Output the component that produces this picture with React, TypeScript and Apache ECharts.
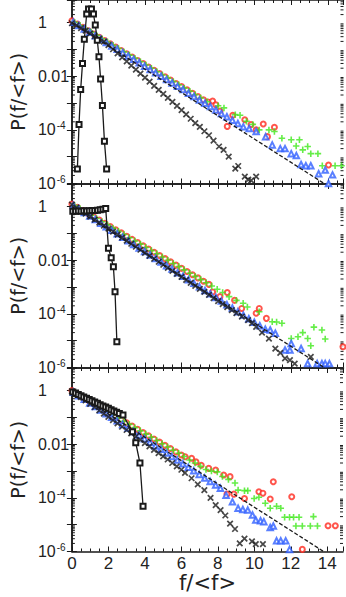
import React, { useEffect, useRef } from "react";
import * as echarts from "echarts";

type Pt = [number, number];

const X_MIN = 0;
const X_MAX = 14.86;
const X_INTERVAL = 2;
const Y_MIN = 1e-6;
const Y_MAX = 7;
const Y_LABEL_EXPONENTS = [0, -2, -4, -6];
const X_NAME = "f/<f>";
const Y_NAME = "P(f/<f>)";

// ---------- Panel 1 ----------
const p1Red: Pt[] = [[0,1.17],[0.3,0.885],[0.6,0.667],[0.9,0.5],[1.2,0.378],[1.5,0.285],[1.8,0.215],[2.1,0.162],[2.4,0.122],[2.7,0.092],[3.0,0.069],[3.3,0.052],[3.6,0.039],[3.9,0.03],[4.2,0.022],[4.5,0.0168],[4.8,0.0126],[5.1,0.0095],[5.4,0.0072],[5.7,0.0054],[6.0,0.0041],[6.3,0.0031],[6.6,0.0023],[6.9,0.00174],[7.2,0.00132],[7.45,1.1e-3],[7.7,1.2e-3],[7.88,8.7e-4],[8.1,5e-4],[8.5,1.35e-4],[8.8,3.5e-4],[9.46,2.4e-4],[9.8,1.6e-4],[10.08,1.0e-4],[10.47,1.66e-4],[10.7,5.6e-5],[11.08,1.26e-4],[14.04,4.9e-6]];
const p1Green: Pt[] = [[0.15,1.04],[0.45,0.78],[0.75,0.59],[1.05,0.445],[1.35,0.337],[1.65,0.25],[1.95,0.19],[2.25,0.144],[2.55,0.108],[2.85,0.081],[3.15,0.0617],[3.45,0.0465],[3.75,0.0347],[4.05,0.0263],[4.35,0.02],[4.65,0.0148],[4.95,0.0112],[5.25,0.0085],[5.55,0.0063],[5.85,0.0048],[6.15,0.0036],[6.45,0.00275],[6.75,0.00204],[7.05,0.00155],[7.4,0.00112],[8.0,7.9e-4],[8.32,6.6e-4],[8.94,3.7e-4],[9.2,3.5e-4],[9.55,2.1e-4],[9.9,1.6e-4],[10.25,1.0e-4],[10.78,1.0e-4],[11.08,8.7e-5],[11.49,4.9e-5],[12.0,4.3e-5],[12.27,2.5e-5],[12.45,4.3e-5],[12.63,1.8e-5],[12.9,2.4e-5],[13.07,1.3e-5],[13.46,1.3e-5],[13.7,4.6e-6],[14.4,4.6e-6],[14.75,4.6e-6]];
const p1Blue: Pt[] = [[0.08,1.04],[0.38,0.776],[0.68,0.58],[0.98,0.435],[1.28,0.325],[1.58,0.243],[1.88,0.182],[2.18,0.136],[2.48,0.102],[2.78,0.0762],[3.08,0.057],[3.38,0.0427],[3.68,0.0319],[3.98,0.0239],[4.28,0.0179],[4.58,0.0134],[4.88,0.01],[5.18,0.0075],[5.48,0.0056],[5.78,0.0042],[6.08,0.0032],[6.38,0.00234],[6.68,0.00175],[6.98,0.00131],[7.28,9.8e-4],[7.58,7.4e-4],[7.88,5.5e-4],[8.18,4.1e-4],[8.48,3.1e-4],[8.78,2.3e-4],[9.08,1.74e-4],[9.38,1.3e-4],[9.7,1.12e-4],[10.08,8.7e-5],[10.6,5.6e-5],[10.96,2.75e-5],[11.4,2.0e-5],[11.66,2.0e-5],[12.0,1.3e-5],[12.28,1.1e-5],[12.54,5.1e-6],[12.8,4.6e-6],[13.07,4.6e-6],[13.5,2.3e-6],[13.86,3.2e-6],[14.26,2.1e-6],[14.04,1.0e-6]];
const p1Cross: Pt[] = [[0,0.95],[0.25,0.79],[0.5,0.63],[0.75,0.5],[1.0,0.4],[1.25,0.316],[1.5,0.25],[1.75,0.195],[2.0,0.145],[2.25,0.102],[2.5,0.072],[2.75,0.051],[3.0,0.036],[3.25,0.025],[3.5,0.0178],[3.75,0.0126],[4.0,0.0089],[4.25,0.0063],[4.5,0.0044],[4.75,0.0031],[5.0,0.0022],[5.25,0.00155],[5.5,0.0011],[5.75,7.8e-4],[6.0,5.5e-4],[6.25,3.8e-4],[6.5,2.6e-4],[6.75,1.8e-4],[7.0,1.3e-4],[7.25,8.9e-5],[7.5,6.3e-5],[7.75,4.0e-5],[8.05,2.4e-5],[8.3,1.8e-5],[8.58,1.0e-5],[8.94,3.6e-6],[9.1,4.5e-6],[9.46,1.8e-6],[9.65,1.4e-6],[9.81,1.3e-6],[10.08,1.8e-6]];
const p1Square: Pt[] = [[0.3,3.5e-6],[0.39,1.6e-4],[0.48,3.2e-3],[0.58,0.03],[0.68,0.24],[0.81,2.1],[0.91,3.2],[1.07,3.2],[1.18,2.1],[1.28,0.81],[1.39,0.22],[1.48,0.054],[1.57,7.9e-3],[1.67,8.2e-4],[1.78,3.8e-5],[1.9,3.5e-6]];

// ---------- Panel 2 ----------
const p2Red: Pt[] = [[0,1.26],[0.3,0.955],[0.6,0.724],[0.9,0.55],[1.2,0.417],[1.5,0.316],[1.8,0.24],[2.1,0.182],[2.4,0.138],[2.7,0.105],[3.0,0.079],[3.3,0.06],[3.6,0.0457],[3.9,0.0347],[4.2,0.0263],[4.5,0.02],[4.8,0.0151],[5.1,0.0115],[5.4,0.0087],[5.7,0.0066],[6.0,0.005],[6.3,0.0038],[6.6,0.0029],[6.9,0.0022],[7.2,0.00166],[7.5,0.00126],[7.7,6.6e-4],[8.1,4.4e-4],[8.5,6.3e-4],[8.9,3.2e-4],[9.29,1.6e-4],[10.08,1.05e-4],[10.25,1.6e-4],[10.64,6.8e-5],[14.83,5.9e-6]];
const p2Green: Pt[] = [[0.15,1.1],[0.45,0.83],[0.75,0.63],[1.05,0.48],[1.35,0.363],[1.65,0.275],[1.95,0.209],[2.25,0.158],[2.55,0.12],[2.85,0.091],[3.15,0.069],[3.45,0.0525],[3.75,0.04],[4.05,0.03],[4.35,0.0229],[4.65,0.0174],[4.95,0.0132],[5.25,0.01],[5.55,0.0076],[5.85,0.0058],[6.15,0.0044],[6.45,0.0033],[6.75,0.0025],[7.05,0.0019],[7.35,0.00145],[7.65,0.0011],[7.95,8.3e-4],[8.25,6.3e-4],[8.6,4.4e-4],[9.0,3.2e-4],[9.37,2.5e-4],[9.6,1.8e-4],[10.25,1.2e-4],[10.96,5.1e-5],[11.2,5.0e-5],[11.49,4.5e-5],[12.0,1.2e-5],[12.37,1.4e-5],[12.63,2.0e-5],[12.9,1.2e-5],[13.07,6.5e-6],[13.24,3.2e-5],[13.68,2.5e-5],[13.86,1.15e-5]];
const p2Blue: Pt[] = [[0.08,1.11],[0.38,0.82],[0.68,0.6],[0.98,0.445],[1.28,0.33],[1.58,0.243],[1.88,0.179],[2.18,0.132],[2.48,0.098],[2.78,0.072],[3.08,0.053],[3.38,0.039],[3.68,0.0289],[3.98,0.0213],[4.28,0.0157],[4.58,0.0116],[4.88,0.0086],[5.18,0.0063],[5.48,0.0047],[5.78,0.00344],[6.08,0.00254],[6.38,0.00187],[6.68,0.00138],[6.98,0.00102],[7.28,7.5e-4],[7.58,5.6e-4],[7.88,4.1e-4],[8.18,3.0e-4],[8.48,2.2e-4],[8.78,1.65e-4],[9.08,1.2e-4],[9.38,9.0e-5],[9.68,6.6e-5],[9.98,4.9e-5],[10.28,3.6e-5],[10.58,2.7e-5],[10.85,2.5e-5],[11.13,1.9e-5],[11.66,4.5e-6],[11.93,4.5e-6],[12.0,7.9e-6],[12.54,5.1e-6],[12.9,1.4e-6],[13.42,1.4e-6],[13.68,1.4e-6],[13.86,1.4e-6],[14.09,1.4e-6]];
const p2Cross: Pt[] = [[0,1.2],[0.25,0.93],[0.5,0.716],[0.75,0.552],[1.0,0.427],[1.25,0.329],[1.5,0.254],[1.75,0.196],[2.0,0.151],[2.25,0.117],[2.5,0.09],[2.75,0.0695],[3.0,0.0537],[3.25,0.0414],[3.5,0.032],[3.75,0.0247],[4.0,0.019],[4.25,0.0147],[4.5,0.0114],[4.75,0.0088],[5.0,0.0068],[5.25,0.0052],[5.5,0.004],[5.75,0.0031],[6.0,0.0024],[6.25,0.00185],[6.5,0.00143],[6.75,0.0011],[7.0,8.5e-4],[7.25,6.6e-4],[7.5,5.1e-4],[7.75,3.9e-4],[8.0,3.0e-4],[8.25,2.3e-4],[8.5,1.8e-4],[8.75,1.39e-4],[9.0,1.07e-4],[9.3,7.9e-5],[9.64,5.9e-5],[9.85,4.5e-5],[10.08,3.3e-5],[10.4,2.0e-5],[10.78,1.2e-5],[11.13,5.1e-6],[11.4,3.5e-6],[11.66,2.2e-6],[11.93,1.9e-6],[12.19,1.4e-6],[13.07,2.5e-6]];
const p2Square: Pt[] = [[0.05,0.68],[0.2,0.68],[0.35,0.69],[0.5,0.68],[0.65,0.7],[0.8,0.69],[0.95,0.7],[1.1,0.72],[1.25,0.72],[1.4,0.74],[1.55,0.76],[1.7,0.8],[1.85,0.86],[2.0,0.028],[2.15,0.0124],[2.27,0.0057],[2.36,6.7e-4],[2.46,9.1e-6]];

// ---------- Panel 3 ----------
const p3Red: Pt[] = [[0,1.0],[0.3,0.76],[0.6,0.575],[0.9,0.437],[1.2,0.331],[1.5,0.251],[1.8,0.19],[2.1,0.145],[2.4,0.11],[2.7,0.083],[3.0,0.063],[3.3,0.048],[3.6,0.036],[3.9,0.0275],[4.2,0.0209],[4.5,0.0158],[4.8,0.012],[5.1,0.0091],[5.4,0.0069],[5.7,0.0052],[6.0,0.004],[6.21,0.0034],[6.56,0.003],[6.8,0.0022],[7.09,0.00166],[7.5,0.00126],[7.88,0.0011],[8.32,7.1e-4],[8.67,6.2e-4],[8.5,1.38e-4],[8.88,1.38e-4],[9.46,9.5e-5],[10.25,1.7e-4],[10.47,1.5e-4],[10.87,9.1e-5],[11.04,4.0e-4],[12.05,1.1e-4],[12.63,1.2e-6],[14.04,9.1e-6],[14.44,9.1e-6]];
const p3Green: Pt[] = [[0.15,0.87],[0.45,0.66],[0.75,0.5],[1.05,0.38],[1.35,0.288],[1.65,0.219],[1.95,0.166],[2.25,0.126],[2.55,0.095],[2.85,0.072],[3.15,0.055],[3.45,0.0417],[3.75,0.0316],[4.05,0.024],[4.35,0.0182],[4.65,0.0138],[4.95,0.0105],[5.25,0.0079],[5.55,0.006],[5.85,0.0046],[6.15,0.0035],[6.45,0.0026],[6.75,0.002],[7.05,0.0015],[7.35,0.00115],[7.65,0.001],[7.97,9.3e-4],[8.25,6.3e-4],[8.58,4.9e-4],[8.94,3.6e-4],[9.11,1.95e-4],[9.46,1.86e-4],[9.64,1.86e-4],[9.99,9.5e-5],[10.25,1.05e-4],[10.6,6.3e-5],[10.87,4.1e-5],[11.22,4.9e-5],[11.45,4.1e-5],[11.66,1.9e-5],[11.93,1.9e-5],[12.15,1.9e-5],[12.45,1.9e-5],[13.24,2.0e-5],[12.28,8.9e-6],[12.63,8.9e-6],[13.07,8.9e-6],[13.46,8.9e-6],[14.92,8.3e-6]];
const p3Blue: Pt[] = [[0.08,0.88],[0.38,0.646],[0.68,0.475],[0.98,0.35],[1.28,0.257],[1.58,0.189],[1.88,0.139],[2.18,0.102],[2.48,0.075],[2.78,0.055],[3.08,0.0407],[3.38,0.03],[3.68,0.022],[3.98,0.0162],[4.28,0.0119],[4.58,0.0087],[4.88,0.0065],[5.18,0.0047],[5.48,0.00347],[5.78,0.00257],[6.08,0.00188],[6.38,0.00138],[6.68,0.00102],[6.98,7.5e-4],[7.28,5.5e-4],[7.58,4.1e-4],[7.88,3.0e-4],[8.14,2.3e-4],[8.45,1.26e-4],[8.8,7.1e-5],[9.11,4.1e-5],[9.37,3.7e-5],[9.64,3.5e-5],[9.9,2.3e-5],[10.08,1.5e-5],[10.34,1.4e-5],[10.52,1.3e-5],[10.87,7.9e-6],[11.04,8.9e-6],[11.22,2.5e-6],[11.45,2.5e-6],[11.72,2.5e-6],[11.93,1.2e-6]];
const p3Cross: Pt[] = [[0,0.95],[0.25,0.76],[0.5,0.57],[0.75,0.43],[1.0,0.324],[1.25,0.245],[1.5,0.184],[1.75,0.138],[2.0,0.105],[2.25,0.079],[2.5,0.06],[2.75,0.045],[3.0,0.034],[3.25,0.0257],[3.5,0.0193],[3.75,0.0145],[4.0,0.011],[4.25,0.0083],[4.5,0.0062],[4.75,0.0047],[5.0,0.00355],[5.25,0.0027],[5.5,0.002],[5.75,0.0015],[6.0,0.00112],[6.2,8.5e-4],[6.56,5.4e-4],[6.9,3.2e-4],[7.26,1.95e-4],[7.6,1.0e-4],[7.88,5.4e-5],[8.15,3.5e-5],[8.41,2.2e-5],[8.67,1.1e-5],[8.94,6.9e-6],[9.2,2.0e-6],[9.46,3.0e-6],[9.87,2.4e-6],[10.08,1.9e-6],[10.47,1.9e-6]];
const p3Square: Pt[] = [[0.05,0.9],[0.2,0.81],[0.35,0.72],[0.5,0.65],[0.65,0.58],[0.8,0.52],[0.95,0.47],[1.1,0.42],[1.25,0.377],[1.4,0.34],[1.55,0.3],[1.7,0.27],[1.85,0.245],[2.0,0.22],[2.15,0.196],[2.3,0.176],[2.45,0.158],[2.6,0.141],[2.8,0.123],[3.32,0.029],[3.5,0.0114],[3.73,2.0e-3],[3.9,4.9e-5]];

// dashed reference line (end points)
const dashedLine: Pt[] = [[0, 1], [13.8, 1e-6]];

const panels = [
  { red: p1Red, green: p1Green, blue: p1Blue, cross: p1Cross, square: p1Square },
  { red: p2Red, green: p2Green, blue: p2Blue, cross: p2Cross, square: p2Square },
  { red: p3Red, green: p3Green, blue: p3Blue, cross: p3Cross, square: p3Square },
];

const GRID_TOPS = [0, 184, 368];
const GRID_HEIGHT = 183.5;
const GRID_LEFT = 61.5;
const GRID_WIDTH = 282;

const INK = "#1a1a1a";
const RED = "#ff2a1f";
const GREEN = "#3ee81a";
const BLUE = "#2f5fff";

// minor log tick positions (2..9 per decade)
const yMinorTicks: number[] = [];
for (let d = -6; d <= 0; d++) {
  for (let k = 2; k <= 9; k++) {
    const v = k * Math.pow(10, d);
    if (v < Y_MAX) yMinorTicks.push(v);
  }
}

const PLUS = "path://M5,0L5,10M0,5L10,5";
const CROSS = "path://M0,0L10,10M10,0L0,10";

function yLabel(v: number): string {
  const e = Math.round(Math.log10(v));
  if (Math.abs(Math.log10(v) - e) > 1e-6) return "";
  if (!Y_LABEL_EXPONENTS.includes(e)) return "";
  if (e === 0) return "{n|1}";
  if (e === -2) return "{n|0.01}";
  return "{n|10}{s|" + e + "}";
}

function xLabel(v: number): string {
  const r = Math.round(v);
  if (Math.abs(v - r) > 1e-6 || r % X_INTERVAL !== 0) return "";
  return String(r);
}

export default function App() {
  const ref = useRef<HTMLDivElement>(null);
  useEffect(() => {
    if (!ref.current) return;
    const chart = echarts.init(ref.current, undefined, { renderer: "svg" });
    const grid: any[] = [];
    const xAxis: any[] = [];
    const yAxis: any[] = [];
    const series: any[] = [];
    const axisLine = { show: true, lineStyle: { color: INK, width: 1.5 } };
    const tickStyle = { color: INK, width: 1 };
    panels.forEach((p, i) => {
      grid.push({ left: GRID_LEFT, top: GRID_TOPS[i], width: GRID_WIDTH, height: GRID_HEIGHT });
      const isLast = i === panels.length - 1;
      xAxis.push({
        type: "value", gridIndex: i, position: "bottom", min: X_MIN, max: X_MAX, interval: X_INTERVAL,
        axisLine, axisTick: { inside: true, length: 5, lineStyle: tickStyle },
        minorTick: { show: true, splitNumber: 4, length: 3, lineStyle: tickStyle },
        splitLine: { show: false },
        axisLabel: { show: isLast, formatter: xLabel, fontSize: 17, color: "#222", margin: 3, fontFamily: "Liberation Sans" },
        name: isLast ? X_NAME : "", nameLocation: "middle", nameGap: 21,
        nameTextStyle: { fontSize: 21, color: "#222", fontFamily: "DejaVu Sans" },
      });
      xAxis.push({
        type: "value", gridIndex: i, position: "top", min: X_MIN, max: X_MAX, interval: X_INTERVAL,
        axisLine, axisTick: { inside: true, length: 5, lineStyle: tickStyle },
        minorTick: { show: true, splitNumber: 4, length: 3, lineStyle: tickStyle },
        splitLine: { show: false }, axisLabel: { show: false },
      });
      yAxis.push({
        type: "log", logBase: 10, gridIndex: i, position: "left", min: Y_MIN, max: Y_MAX, splitNumber: 7,
        axisLine, axisTick: { inside: true, length: 5, lineStyle: tickStyle },
        splitLine: { show: false },
        axisLabel: {
          formatter: yLabel, align: "left", margin: 34, color: "#222",
          rich: {
            n: { fontSize: 16, fontFamily: "Liberation Sans", color: "#222", lineHeight: 18 },
            s: { fontSize: 10, fontFamily: "Liberation Sans", color: "#222", verticalAlign: "top", lineHeight: 10, padding: [0, 0, 0, 1] },
          },
        },
        name: Y_NAME, nameLocation: "middle", nameGap: 40,
        nameTextStyle: { fontSize: 19, color: "#222", fontFamily: "DejaVu Sans" },
      });
      yAxis.push({
        type: "log", logBase: 10, gridIndex: i, position: "right", min: Y_MIN, max: Y_MAX, splitNumber: 7,
        axisLine, axisTick: { inside: true, length: 5, lineStyle: tickStyle },
        splitLine: { show: false }, axisLabel: { show: false },
      });
      const xi = 2 * i;
      const yi = 2 * i;
      series.push({
        type: "custom", xAxisIndex: xi, yAxisIndex: yi, silent: true, clip: false,
        data: yMinorTicks.map((v) => [X_MIN, v]),
        renderItem: (_params: any, api: any) => {
          const v = api.value(1);
          const l = api.coord([X_MIN, v]);
          const r = api.coord([X_MAX, v]);
          return {
            type: "group",
            children: [
              { type: "line", shape: { x1: l[0], y1: l[1], x2: l[0] + 3, y2: l[1] }, style: { stroke: INK, lineWidth: 1 } },
              { type: "line", shape: { x1: r[0] - 3, y1: r[1], x2: r[0], y2: r[1] }, style: { stroke: INK, lineWidth: 1 } },
            ],
          };
        },
      });
      series.push({
        type: "scatter", xAxisIndex: xi, yAxisIndex: yi, data: p.red, symbol: "emptyCircle", symbolSize: 5,
        itemStyle: { color: RED, borderWidth: 1.3 },
      });
      series.push({
        type: "scatter", xAxisIndex: xi, yAxisIndex: yi, data: p.green, symbol: PLUS, symbolSize: 6.5,
        itemStyle: { color: GREEN, borderColor: GREEN, borderWidth: 1.6 },
      });
      series.push({
        type: "scatter", xAxisIndex: xi, yAxisIndex: yi, data: p.blue, symbol: "emptyTriangle", symbolSize: 5.5,
        itemStyle: { color: BLUE, borderWidth: 1.2 },
      });
      series.push({
        type: "scatter", xAxisIndex: xi, yAxisIndex: yi, data: p.cross, symbol: CROSS, symbolSize: 5.5,
        itemStyle: { color: INK, borderColor: INK, borderWidth: 1.7 },
      });
      series.push({
        type: "line", xAxisIndex: xi, yAxisIndex: yi, data: dashedLine, symbol: "none",
        lineStyle: { color: INK, width: 1.3, type: [4, 2] },
      });
      series.push({
        type: "line", xAxisIndex: xi, yAxisIndex: yi, data: p.square, symbol: "emptyRect", symbolSize: 5,
        lineStyle: { color: INK, width: 1.3 }, itemStyle: { color: INK, borderWidth: 1 },
      });
    });
    chart.setOption({
      animation: false,
      backgroundColor: "#ffffff",
      grid, xAxis, yAxis, series,
    });
    return () => chart.dispose();
  }, []);
  return (
    <div
      ref={ref}
      style={{ position: "fixed", left: 0, top: 0, width: 346, height: 597, background: "#fff" }}
    />
  );
}
